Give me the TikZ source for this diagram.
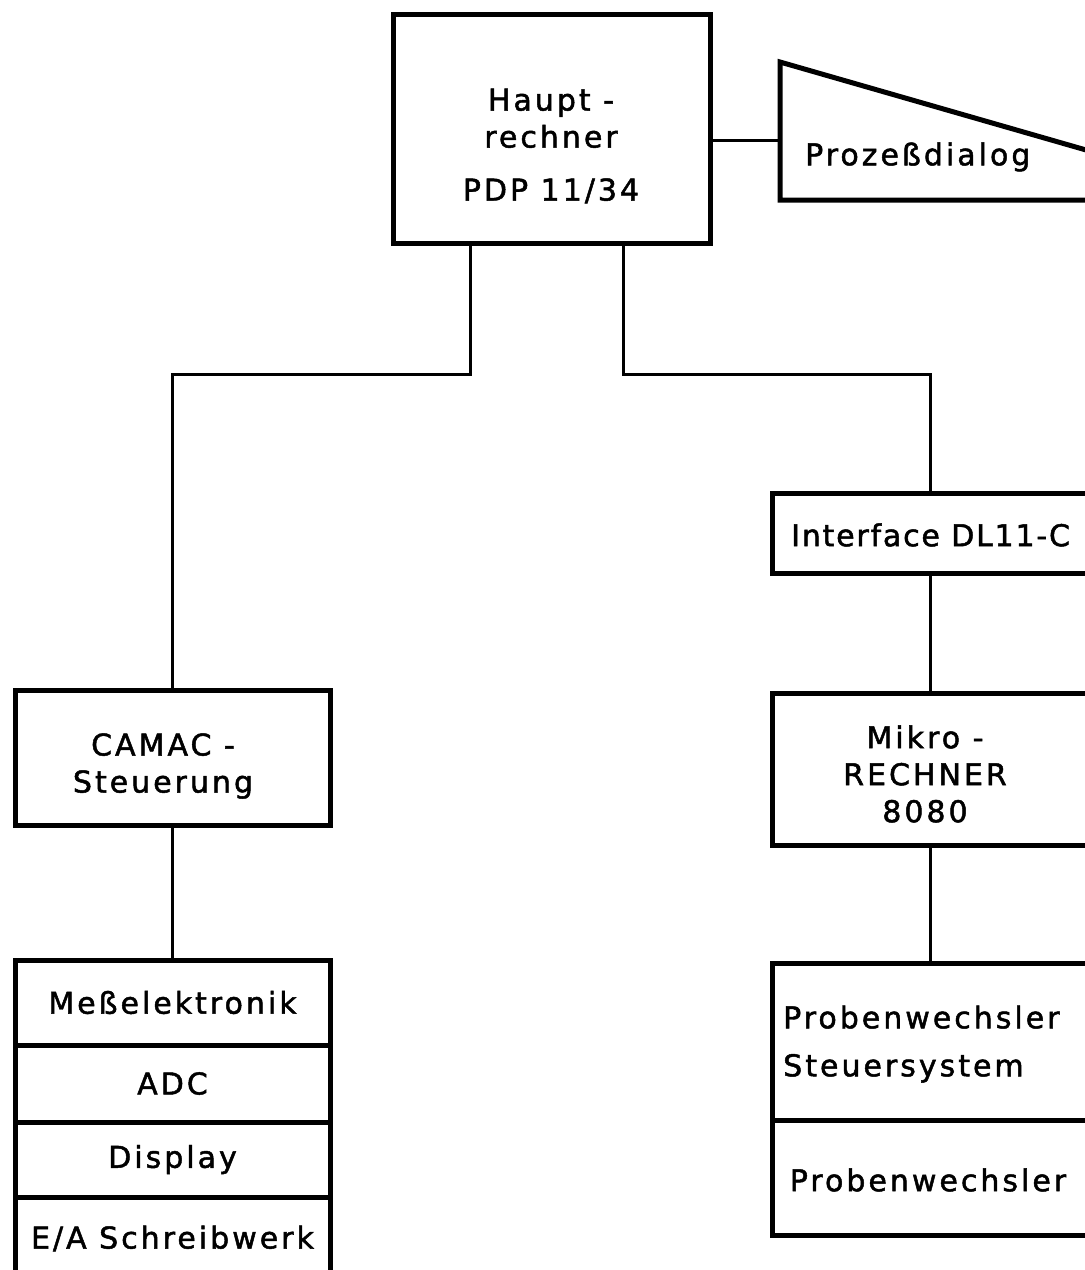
\documentclass[tikz,border=0pt]{standalone}
\usepackage{fontspec}
\usepackage{tikz}
\usetikzlibrary{positioning}

\newfontfamily\labfont{DejaVu Sans}[LetterSpace=10, FakeBold=1.6]
\newfontfamily\labnarrow{DejaVu Sans}[LetterSpace=6, FakeBold=1.6]

\begin{document}
\begin{tikzpicture}[
  x=1pt, y=-1pt,
  blk/.style={draw, line width=5pt, inner sep=0pt, align=center, font=\labfont\fontsize{30}{37}\selectfont},
  lbl/.style={inner sep=0pt, align=center, font=\labfont\fontsize{30}{37}\selectfont},
  wire/.style={line width=3pt},
  every node/.style={text=black}
]
\useasboundingbox (0,0) rectangle (1085,1270);
\clip (0,0) rectangle (1085,1270);

% Hauptrechner
\node[blk, minimum width=317pt, minimum height=229pt] (hr) at (551.5,128.5) {};
\node[lbl] (hrtxt) at (551,146) {Haupt -\\rechner\\[16pt]PDP 11/34};

% Prozessdialog
\coordinate (pdin) at (780,140);
\draw[line width=5pt, line join=miter] (1100,154) -- (780,62) -- (780,200) -- (1100,200);
\node[lbl, anchor=west] (pdtxt) at (805,157) {Prozeßdialog};
\draw[wire] (hr.east |- pdin) -- (pdin);

% rechter Zweig
\node[blk, minimum width=316pt, minimum height=80pt] (iface) at (930,533) {};
\node[lbl, anchor=west, font=\labnarrow\fontsize{30}{37}\selectfont] (ifacetxt) at (791,535) {Interface DL11-C};
\node[blk, minimum width=316pt, minimum height=152pt] (mikro) at (930,769) {};
\node[lbl] (mikrotxt) at (925,774) {Mikro -\\RECHNER\\8080};
\node[blk, minimum width=316pt, minimum height=157pt] (pws) at (930,1041.5) {};
\node[lbl, anchor=west, align=left] (pwstxt) at (783,1044) {Probenwechsler\\[11pt]Steuersystem};
\node[blk, minimum width=316pt, minimum height=115pt] (pw) at (930,1177.5) {};
\node[lbl] (pwtxt) at (928,1180) {Probenwechsler};

% linker Zweig
\node[blk, minimum width=315pt, minimum height=135pt] (camac) at (172.5,757.5) {};
\node[lbl] (camactxt) at (163,766) {CAMAC -\\Steuerung};
\node[blk, minimum width=315pt, minimum height=85pt] (mess) at (172.5,1002.5) {Meßelektronik};
\node[blk, minimum width=315pt, minimum height=77pt] (adc) at (172.5,1083.5) {ADC};
\node[blk, minimum width=315pt, minimum height=75pt] (disp) at (172.5,1159.5) {Display};
\node[blk, minimum width=315pt, minimum height=83pt] (ea) at (172.5,1238.5) {E/A Schreibwerk};

% Verbindungen
\draw[wire] ([xshift=-81.5pt]hr.south) -- ++(0,129) -| (camac.north);
\draw[wire] ([xshift=71.5pt]hr.south) -- ++(0,129) -| (iface.north);
\draw[wire] (iface.south) -- (mikro.north);
\draw[wire] (mikro.south) -- (pws.north);
\draw[wire] (camac.south) -- (mess.north);

\end{tikzpicture}
\end{document}
